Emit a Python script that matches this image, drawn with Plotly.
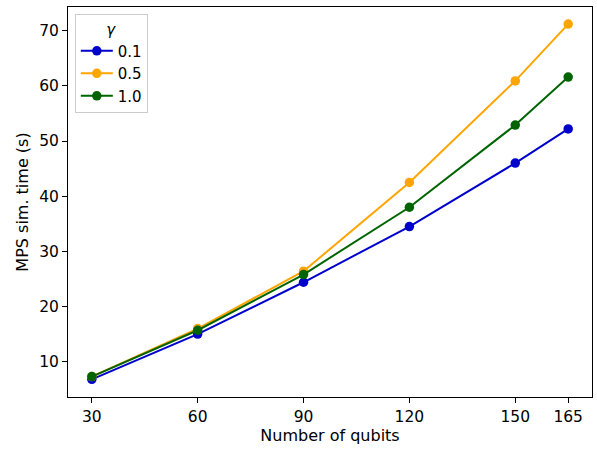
import plotly.graph_objects as go

qubits = [30, 60, 90, 120, 150, 165]
gamma_labels = ["0.1", "0.5", "1.0"]
time_g01 = [6.8, 15.0, 24.4, 34.5, 46.0, 52.2]
time_g05 = [7.3, 16.0, 26.4, 42.5, 60.9, 71.2]
time_g10 = [7.3, 15.7, 25.8, 38.0, 52.9, 61.6]
colors = ["#0000cd", "#ffa500", "#006400"]
x_ticks = [30, 60, 90, 120, 150, 165]
y_ticks = [10, 20, 30, 40, 50, 60, 70]

font = dict(family="DejaVu Sans", size=15.5, color="black")
title_font = dict(family="DejaVu Sans", size=16, color="black")
legend_font = dict(family="DejaVu Sans", size=15, color="black")

fig = go.Figure()
for lab, ys, c in zip(gamma_labels, [time_g01, time_g05, time_g10], colors):
    fig.add_trace(go.Scatter(
        x=qubits, y=ys, name=lab, mode="lines+markers",
        line=dict(color=c, width=2),
        marker=dict(color=c, size=9.5),
    ))

axis_common = dict(
    showline=True, mirror=True, linecolor="black", linewidth=1,
    ticks="outside", ticklen=5, tickwidth=1, tickcolor="black",
    showgrid=False, zeroline=False, tickfont=font,
)
fig.update_xaxes(range=[23.25, 171.75], tickvals=x_ticks,
                 title=dict(text="Number of qubits", font=title_font, standoff=4),
                 **axis_common)
fig.update_yaxes(range=[3.6, 74.3], tickvals=y_ticks,
                 title=dict(text="MPS sim. time (s)", font=title_font, standoff=6),
                 **axis_common)

fig.update_layout(
    width=597, height=450,
    margin=dict(l=68, r=5, t=7, b=53),
    plot_bgcolor="white", paper_bgcolor="white",
    font=font,
    showlegend=True,
    legend=dict(
        x=0.013, y=0.982, xanchor="left", yanchor="top",
        bgcolor="rgba(255,255,255,0.8)", bordercolor="#cccccc", borderwidth=1,
        title=dict(text="<i>γ</i>", side="top center", font=legend_font),
        font=legend_font, itemwidth=32, tracegroupgap=0,
    ),
)

fig.write_html("out.html")
